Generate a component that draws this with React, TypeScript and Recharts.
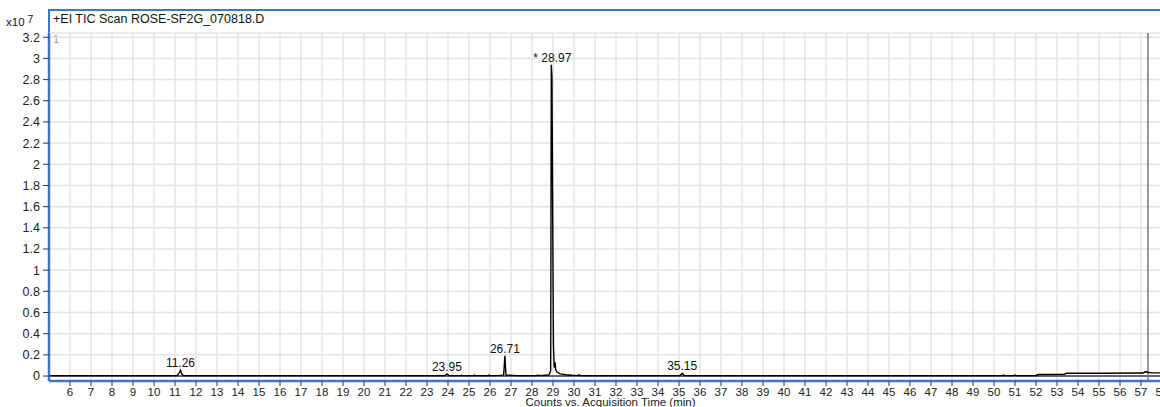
import React from 'react';
import {
  ComposedChart,
  Line,
  XAxis,
  YAxis,
  CartesianGrid,
  ReferenceLine,
  ReferenceDot,
} from 'recharts';

// Acquisition time (min)
const times: number[] = [
  5.0, 8.0, 11.1, 11.2, 11.26, 11.32, 11.4, 16.0, 21.0, 23.85, 23.95, 24.05, 24.6, 24.65, 24.7,
  25.2, 25.25, 25.3, 25.9, 25.95, 26.0, 26.5, 26.65, 26.71, 26.76, 26.9, 27.1, 27.3, 28.2,
  28.25, 28.5, 28.55, 28.8, 28.89, 28.92, 28.95, 29.02, 29.06, 29.1, 29.13, 29.2, 29.35,
  29.6, 29.9, 30.2, 30.25, 30.3, 33.0, 35.05, 35.15, 35.25, 40.0, 45.0, 50.4, 50.45, 50.5,
  50.95, 51.0, 51.05, 52.0, 52.1, 53.35, 53.45, 55.0, 57.1, 57.2, 57.35, 57.45, 58.0,
];

// TIC counts (x10^7)
const counts: number[] = [
  0.004, 0.004, 0.004, 0.03, 0.055, 0.02, 0.004, 0.004, 0.004, 0.004, 0.02, 0.004, 0.004, 0.008, 0.004,
  0.004, 0.009, 0.004, 0.004, 0.009, 0.004, 0.006, 0.01, 0.19, 0.01, 0.008, 0.006, 0.004, 0.004,
  0.008, 0.004, 0.008, 0.01, 0.05, 2.94, 2.82, 0.3, 0.08, 0.13, 0.06, 0.035, 0.02,
  0.012, 0.008, 0.006, 0.012, 0.004, 0.004, 0.004, 0.025, 0.004, 0.004, 0.004, 0.004, 0.01, 0.004,
  0.004, 0.01, 0.004, 0.005, 0.014, 0.016, 0.026, 0.026, 0.028, 0.04, 0.036, 0.03, 0.03,
];

const xTicks: number[] = [
  6, 7, 8, 9, 10, 11, 12, 13, 14, 15, 16, 17, 18, 19, 20, 21, 22, 23, 24, 25, 26, 27, 28, 29, 30,
  31, 32, 33, 34, 35, 36, 37, 38, 39, 40, 41, 42, 43, 44, 45, 46, 47, 48, 49, 50, 51, 52, 53, 54,
  55, 56, 57, 58,
];
const yTicks: number[] = [0, 0.2, 0.4, 0.6, 0.8, 1, 1.2, 1.4, 1.6, 1.8, 2, 2.2, 2.4, 2.6, 2.8, 3, 3.2];

const peakTimes: number[] = [11.26, 23.95, 26.71, 28.97, 35.15];
const peakHeights: number[] = [0.055, 0.02, 0.19, 2.94, 0.025];
const peakLabels: string[] = ['11.26', '23.95', '26.71', '* 28.97', '35.15'];

const data = times.map((t, i) => ({ t, v: counts[i] }));

const FONT = '"Liberation Sans", Arial, sans-serif';
const BLUE = '#3f73d4';

const fmtY = (v: number) => {
  if (v === 0) return '0';
  const s = v.toFixed(1);
  return s.endsWith('.0') ? s.slice(0, -2) : s;
};

export default function App() {
  return (
    <div
      style={{
        position: 'absolute',
        left: 0,
        top: 0,
        width: 1160,
        height: 407,
        overflow: 'hidden',
        background: '#fff',
        fontFamily: FONT,
      }}
    >
      {/* frame top edge */}
      <div
        style={{
          position: 'absolute',
          left: 48,
          top: 9,
          width: 1120,
          height: 24,
          borderTop: `2px solid ${BLUE}`,
          borderLeft: `2px solid ${BLUE}`,
          boxSizing: 'border-box',
        }}
      />
      <div style={{ position: 'absolute', left: 6, top: 16, fontSize: 11.5, color: '#111', whiteSpace: 'nowrap' }}>
        x10<span style={{ fontSize: 10.5, position: 'relative', top: -3, marginLeft: 3 }}>7</span>
      </div>
      <div style={{ position: 'absolute', left: 53, top: 12, fontSize: 12.5, color: '#111', whiteSpace: 'nowrap' }}>
        +EI TIC Scan ROSE-SF2G_070818.D
      </div>
      <div style={{ position: 'absolute', left: 53, top: 33, fontSize: 11, color: '#999' }}>1</div>
      <ComposedChart
        width={1162}
        height={407}
        data={data}
        margin={{ top: 33, right: 0, bottom: 0, left: 0 }}
        style={{ position: 'absolute', left: 0, top: 0 }}
      >
        <CartesianGrid stroke="#e4e4e4" strokeWidth={1.5} />
        <XAxis
          dataKey="t"
          type="number"
          domain={[5, 58]}
          ticks={xTicks}
          interval={0}
          allowDataOverflow
          height={26}
          tickSize={5}
          tickMargin={2}
          axisLine={{ stroke: BLUE, strokeWidth: 2.5 }}
          tickLine={{ stroke: '#333' }}
          tick={{ fontSize: 11.5, fill: '#222', fontFamily: FONT }}
          label={{
            value: 'Counts vs. Acquisition Time (min)',
            position: 'insideBottom',
            offset: 1,
            fontSize: 11.5,
            fill: '#222',
            fontFamily: FONT,
            dx: 5,
          }}
        />
        <YAxis
          type="number"
          domain={[-0.047, 3.24]}
          ticks={yTicks}
          interval={0}
          allowDataOverflow
          width={49}
          tickSize={6}
          tickMargin={3}
          tickFormatter={fmtY}
          axisLine={{ stroke: BLUE, strokeWidth: 2.5 }}
          tickLine={{ stroke: '#333' }}
          tick={{ fontSize: 12.5, fill: '#222', fontFamily: FONT }}
        />
        <ReferenceLine y={0} stroke="#666" strokeWidth={2} />
        <ReferenceLine x={57.33} stroke="#777" strokeWidth={1.5} />
        <Line
          dataKey="v"
          type="linear"
          stroke="#000"
          strokeWidth={1.4}
          dot={false}
          isAnimationActive={false}
        />
        {peakTimes.map((t, i) => (
          <ReferenceDot
            key={t}
            x={t}
            y={peakHeights[i]}
            r={0}
            fill="none"
            stroke="none"
            label={{ value: peakLabels[i], position: 'top', offset: 3, fontSize: 12, fill: '#111', fontFamily: FONT }}
          />
        ))}
      </ComposedChart>
    </div>
  );
}
